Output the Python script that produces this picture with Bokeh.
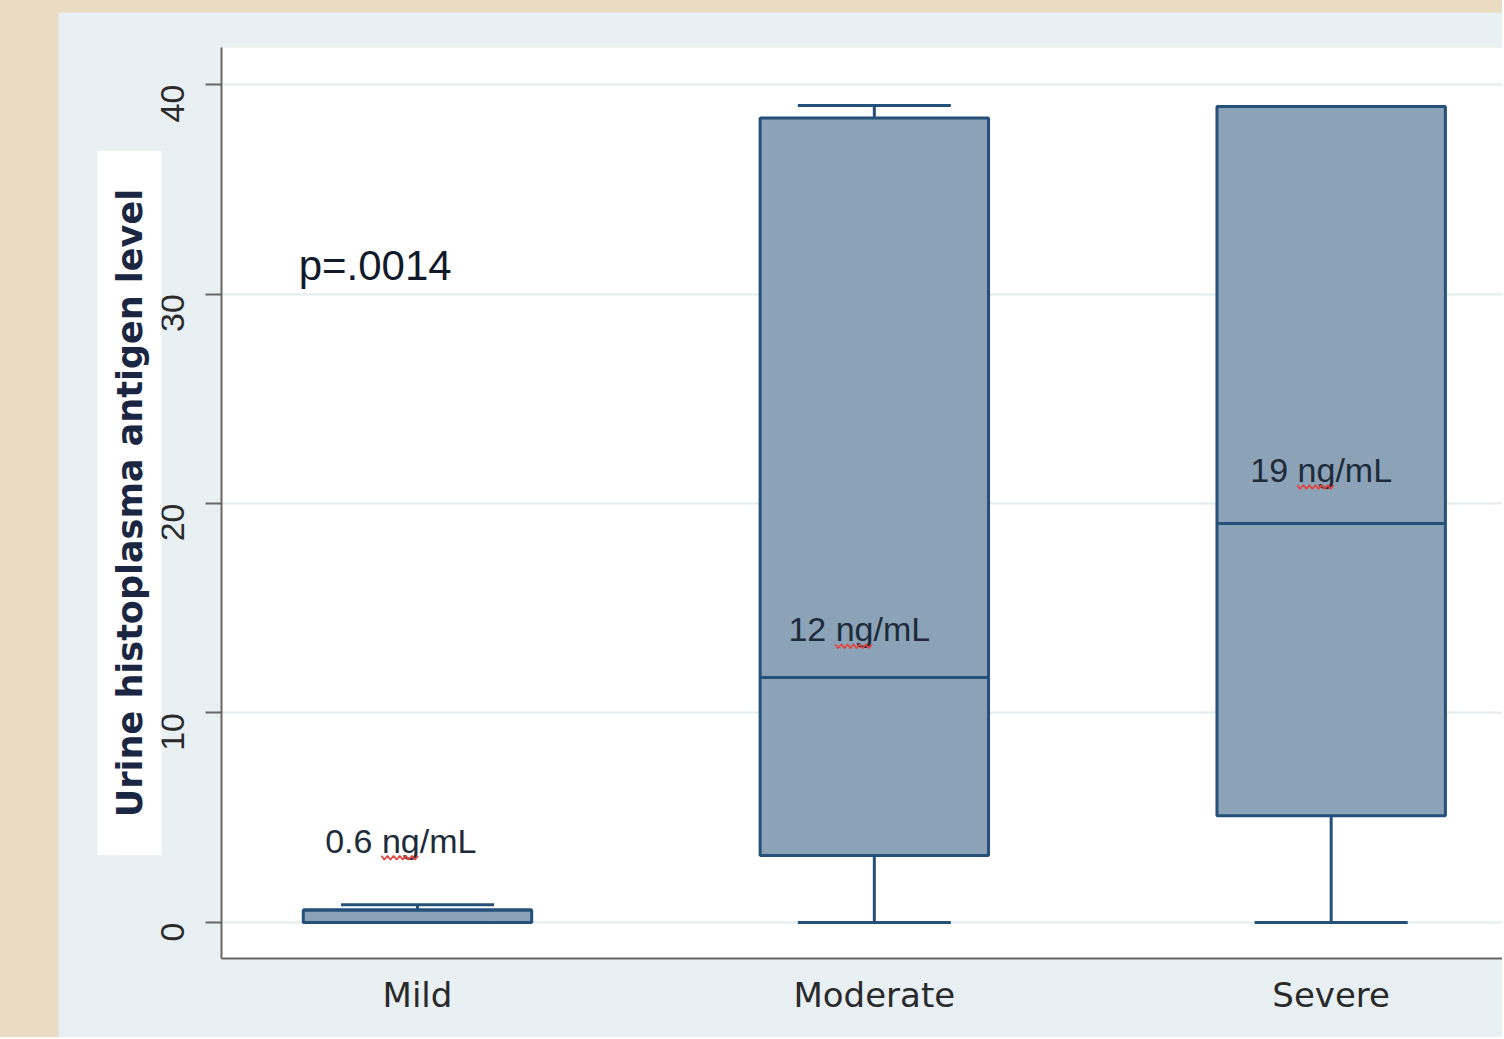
import numpy as np
from bokeh.plotting import figure
from bokeh.models import Label, Range1d, FixedTicker, ColumnDataSource, Title
from bokeh.layouts import column
from bokeh.transform import dodge
from bokeh.embed import file_html
from bokeh.resources import INLINE
from bokeh.core.properties import value

# ---------------- data ----------------
categories = ["Mild", "Moderate", "Severe"]
positions = [1, 2, 3]
lower_whisker = [0.0, 0.0, 0.0]
q1 = [0.0, 3.2, 5.1]
median = [0.6, 11.7, 19.05]
q3 = [0.6, 38.4, 38.95]
upper_whisker = [0.85, 39.0, 38.95]
y_ticks = [0, 10, 20, 30, 40]
median_labels = ["0.6 ng/mL", "12 ng/mL", "19 ng/mL"]
median_label_prefix = ["0.6 ", "12 ", "19 "]
label_x = [0.798, 1.812, 2.823]
label_y = [3.9, 14.0, 21.6]
p_value_text = "p=.0014"
y_title = "Urine histoplasma antigen level"

# ---------------- style ----------------
BEIGE = "#eadcc2"
PANEL = "#e9f0f3"
BOX_FILL = "#8ca2b7"
BOX_LINE = "#25507a"
AXIS = "#666666"
BOX_W = 0.5
CAP_W = 0.335

W, H = 1444, 1025
BL, BT, BB = 149, 35, 79
X0, X1 = 0.571, 3.375
Y0, Y1 = -1.72, 41.77

p = figure(width=W, height=H, x_range=Range1d(X0, X1), y_range=Range1d(Y0, Y1),
           output_backend="svg", toolbar_location=None,
           min_border_left=BL, min_border_top=BT, min_border_bottom=BB, min_border_right=0,
           background_fill_color="white", border_fill_color=PANEL, outline_line_color=None)
p.margin = (12, 0, 0, 58)

src = ColumnDataSource(dict(x=positions, lo=lower_whisker, q1=q1, med=median, q3=q3, hi=upper_whisker))

# whiskers
p.segment(x0="x", y0="q3", x1="x", y1="hi", source=src, line_color=BOX_LINE, line_width=3)
p.segment(x0="x", y0="lo", x1="x", y1="q1", source=src, line_color=BOX_LINE, line_width=3)
# boxes
p.vbar(x="x", width=BOX_W, bottom="q1", top="q3", source=src,
       fill_color=BOX_FILL, line_color=BOX_LINE, line_width=3)
# medians
p.segment(x0=dodge("x", -BOX_W / 2), y0="med", x1=dodge("x", BOX_W / 2), y1="med", source=src,
          line_color=BOX_LINE, line_width=3)
# caps
p.segment(x0=dodge("x", -CAP_W / 2), y0="hi", x1=dodge("x", CAP_W / 2), y1="hi", source=src,
          line_color=BOX_LINE, line_width=3)
p.segment(x0=dodge("x", -CAP_W / 2), y0="lo", x1=dodge("x", CAP_W / 2), y1="lo", source=src,
          line_color=BOX_LINE, line_width=3)

# median labels
FS = 34
lab_src = ColumnDataSource(dict(x=label_x, y=label_y, t=median_labels))
p.text(x="x", y="y", text="t", source=lab_src, text_font=value("Liberation Sans"),
       text_font_size=f"{FS}px", text_color="#1d2b3a", text_align="left", text_baseline="middle")

# spell-check squiggles under "ng"
px_x = (X1 - X0) / (W - BL)
px_y = (Y1 - Y0) / (H - BT - BB)
char_em = {"0": .556, ".": .278, "6": .556, "1": .556, "2": .556, "9": .556, " ": .278}
for lx, ly, pre in zip(label_x, label_y, median_label_prefix):
    start = sum(char_em[c] for c in pre) * FS
    n = np.arange(0, 13)
    sx = start + n * 3.1
    sy = 17 + np.where(n % 2 == 0, -2.0, 2.0)
    p.line(lx + sx * px_x, ly - sy * px_y, line_color="#e8403a", line_width=1.6)

# p value
p.add_layout(Label(x=0.74, y=31.36, text=p_value_text, text_font="Liberation Sans",
                   text_font_size="42px", text_color="#111a2b", text_align="left",
                   text_baseline="middle"))

# y title: a left-side Title with white background box
p.add_layout(Title(text=y_title, align="center", text_font="DejaVu Sans", text_font_style="bold",
                   text_font_size="35px", text_color="#1b2642",
                   background_fill_color="white", padding=(38, 12), standoff=-30), "left")

# axes
p.xaxis.ticker = FixedTicker(ticks=positions)
p.xaxis.major_label_overrides = {pos: c for pos, c in zip(positions, categories)}
p.xaxis.major_tick_line_color = None
p.xaxis.minor_tick_line_color = None
p.xaxis.major_label_standoff = 10
p.xaxis.major_label_text_font = "DejaVu Sans"
p.xaxis.major_label_text_font_size = "34px"
p.xaxis.major_label_text_color = "#2a2a2a"
p.xaxis.axis_line_color = AXIS
p.xaxis.axis_line_width = 2

p.yaxis.ticker = FixedTicker(ticks=y_ticks)
p.yaxis.major_label_orientation = np.pi / 2
p.yaxis.major_tick_out = 16
p.yaxis.major_tick_in = 0
p.yaxis.major_tick_line_color = AXIS
p.yaxis.major_tick_line_width = 2
p.yaxis.minor_tick_line_color = None
p.yaxis.major_label_standoff = 33
p.yaxis.major_label_text_font = "Liberation Sans"
p.yaxis.major_label_text_font_size = "34px"
p.yaxis.major_label_text_color = "#2a2a2a"
p.yaxis.axis_line_color = AXIS
p.yaxis.axis_line_width = 2

p.xgrid.grid_line_color = None
p.ygrid.grid_line_color = "#e2ebee"
p.ygrid.grid_line_width = 2

layout = column(p, styles={"background-color": BEIGE})

open("out.html", "w").write(file_html(layout, INLINE))
